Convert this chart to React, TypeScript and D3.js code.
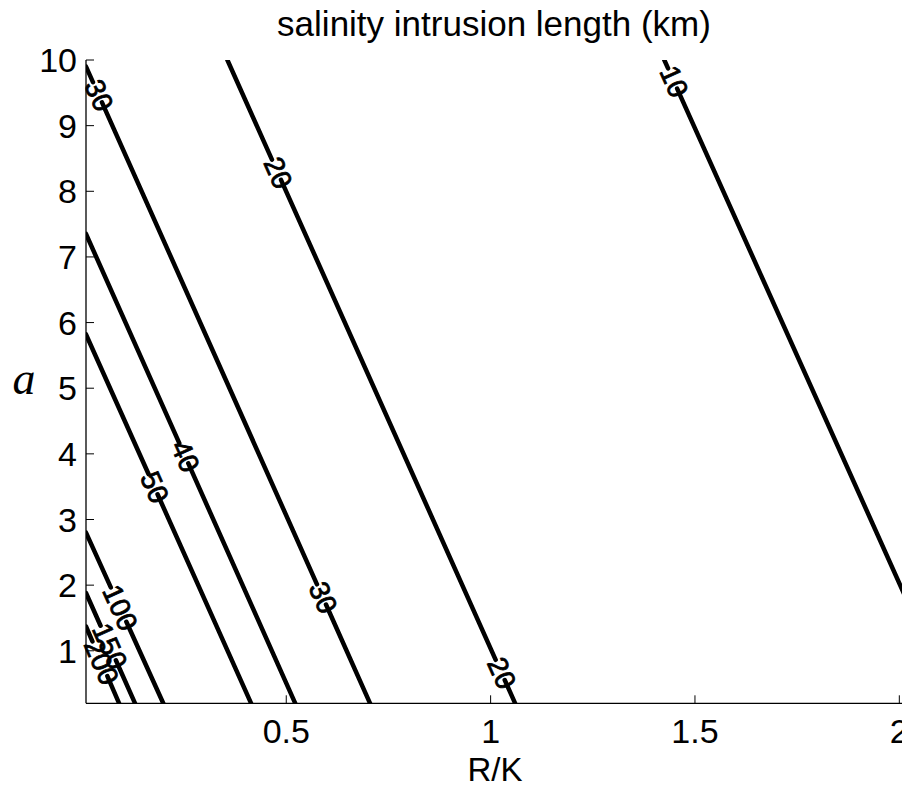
import React from 'react'
import { scaleLinear, line } from 'd3'

// contour levels (km) and the two ends of each contour in data coords [R/K, a]
const levels = [10, 20, 30, 40, 50, 100, 150, 200]
const topEnds = [[1.425, 10], [0.356, 10], [0.01, 9.9], [0.01, 7.35], [0.01, 5.82], [0.01, 2.8], [0.01, 1.88], [0.01, 1.37]]
const bottomEnds = [[2.132, 0.2], [1.06, 0.2], [0.705, 0.2], [0.522, 0.2], [0.414, 0.2], [0.199, 0.2], [0.13, 0.2], [0.091, 0.2]]

// where the inline labels sit, given as the a value along the contour
const labelLevels = [10, 20, 20, 30, 30, 40, 50, 100, 150, 200]
const labelA = [9.67, 8.28, 0.66, 9.46, 1.81, 3.96, 3.49, 1.655, 1.07, 0.83]

const xTicks = [0.5, 1, 1.5, 2]
const yTicks = [1, 2, 3, 4, 5, 6, 7, 8, 9, 10]

const sans = '"Liberation Sans", Arial, Helvetica, sans-serif'

const App = () => {
  const width = 902
  const height = 785
  const left = 86
  const right = 903.4
  const top = 60
  const bottom = 703.3

  const xScale = scaleLinear().domain([0.01, 2.01]).range([left, right])
  const yScale = scaleLinear().domain([0.2, 10]).range([bottom, top])

  const labelSize = 28
  const lineGen = line<number[]>().x(d => d[0]).y(d => d[1])

  // build broken contour segments (gaps where the labels go)
  const contours = levels.map((lev, i) => {
    const p0 = [xScale(topEnds[i][0]), yScale(topEnds[i][1])]
    const p1 = [xScale(bottomEnds[i][0]), yScale(bottomEnds[i][1])]
    const len = Math.hypot(p1[0] - p0[0], p1[1] - p0[1])
    const ux = (p1[0] - p0[0]) / len
    const uy = (p1[1] - p0[1]) / len
    const angle = Math.atan2(uy, ux) * 180 / Math.PI
    const labels = labelLevels
      .map((l, j) => ({ l, a: labelA[j] }))
      .filter(d => d.l === lev)
      .map(d => {
        const t = (p0[1] - yScale(d.a)) / (p0[1] - p1[1]) * len
        const half = String(lev).length * 0.556 * labelSize / 2
        return { t, x: p0[0] + ux * t, y: p0[1] + uy * t, g0: t - half + 1, g1: t + half - 8 }
      })
      .sort((a, b) => a.t - b.t)
    const segs: number[][][] = []
    let s = 0
    labels.forEach(lb => {
      segs.push([[p0[0] + ux * s, p0[1] + uy * s], [p0[0] + ux * lb.g0, p0[1] + uy * lb.g0]])
      s = lb.g1
    })
    segs.push([[p0[0] + ux * s, p0[1] + uy * s], p1])
    return { lev, segs, labels, angle }
  })

  return (
    <div style={{ position: 'absolute', left: 0, top: 0 }}>
      <svg width={width} height={height} style={{ display: 'block', background: 'white' }}>
        <defs>
          <clipPath id='plotArea'>
            <rect x={left} y={top} width={right - left} height={bottom - top} />
          </clipPath>
        </defs>

        <text x={494} y={36} textAnchor='middle' fontFamily={sans} fontSize={35}>salinity intrusion length (km)</text>

        <g clipPath='url(#plotArea)'>
          {contours.map(c => c.segs.map((sg, k) => (
            <path key={c.lev + '-' + k} d={lineGen(sg) || ''} fill='none' stroke='black' strokeWidth={4.5} strokeLinecap='round' />
          )))}
        </g>
        {contours.map(c => c.labels.map((lb, k) => (
          <text key={'l' + c.lev + '-' + k}
            x={lb.x} y={lb.y}
            transform={`rotate(${c.angle},${lb.x},${lb.y})`}
            textAnchor='middle' dominantBaseline='central'
            fontFamily={sans} fontSize={labelSize}
            stroke='black' strokeWidth={0.8}>{c.lev}</text>
        )))}

        {/* axes */}
        <line x1={left} x2={left} y1={top} y2={bottom} stroke='black' strokeWidth={1.3} />
        <line x1={left} x2={right} y1={bottom} y2={bottom} stroke='black' strokeWidth={1.3} />

        {yTicks.map(v => (
          <g key={'y' + v} transform={`translate(0,${yScale(v)})`}>
            <line x1={left} x2={left + 8} stroke='black' strokeWidth={1} />
            <text x={77} textAnchor='end' dominantBaseline='central' fontFamily={sans} fontSize={34}>{v}</text>
          </g>
        ))}
        {xTicks.map(v => (
          <g key={'x' + v} transform={`translate(${xScale(v)},0)`}>
            <line y1={bottom} y2={bottom - 8} stroke='black' strokeWidth={1} />
            <text y={743} textAnchor='middle' fontFamily={sans} fontSize={34}>{v}</text>
          </g>
        ))}

        <text x={495} y={781} textAnchor='middle' fontFamily={sans} fontSize={33}>R/K</text>
        <text x={24} y={394} textAnchor='middle' fontFamily='"Liberation Serif", "Times New Roman", serif' fontStyle='italic' fontSize={46}>a</text>
      </svg>
    </div>
  )
}

export default App
